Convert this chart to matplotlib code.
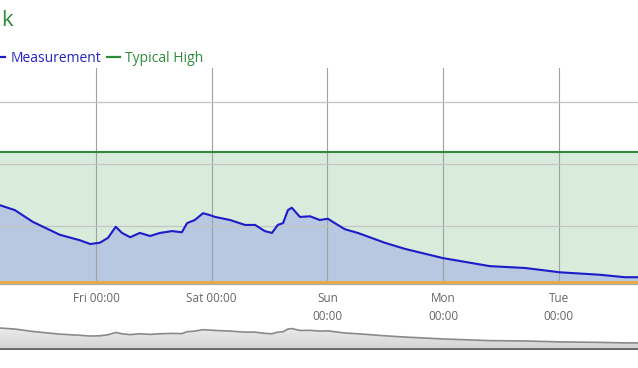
import numpy as np
import matplotlib
matplotlib.use("Agg")
import matplotlib.pyplot as plt
from matplotlib.lines import Line2D

plt.rcParams.update({"font.family": ["Open Sans", "DejaVu Sans"], "font.size": 8.5})

# hours since Thu 00:00 and measured level
meas_hours = [4.1, 7.2, 10.9, 16.5, 20.7, 22.8, 24.8, 26.5, 28.1, 29.4, 31.1, 33.1,
              35.2, 37.3, 39.8, 41.8, 42.9, 44.5, 46.2, 47.6, 48.7, 51.8, 54.9, 57.0,
              59.0, 60.5, 61.7, 62.8, 63.8, 64.6, 66.3, 68.4, 70.4, 72.1, 73.1, 75.6,
              78.3, 83.9, 88.1, 96.0, 105.7, 113.0, 120.2, 128.5, 133.7, 136.4]
meas_vals = [1.33, 1.25, 1.06, 0.85, 0.76, 0.70, 0.72, 0.80, 0.98, 0.88, 0.81, 0.88,
             0.83, 0.88, 0.91, 0.89, 1.04, 1.09, 1.20, 1.17, 1.14, 1.09, 1.01, 1.01,
             0.91, 0.88, 1.01, 1.04, 1.25, 1.29, 1.14, 1.15, 1.09, 1.11, 1.06, 0.94,
             0.88, 0.72, 0.62, 0.47, 0.34, 0.31, 0.24, 0.20, 0.16, 0.16]
typical_high = 2.2
typical_low = 0.08
tick_hours = [24, 48, 72, 96, 120]
tick_labels = ["Fri 00:00", "Sat 00:00", "Sun\n00:00", "Mon\n00:00", "Tue\n00:00"]

x_range = (4.1, 136.4)

fig = plt.figure(figsize=(6.38, 3.68), dpi=100)
ax = fig.add_axes([0, 1 - 284 / 368, 1, 216 / 368])

ax.axhspan(0, typical_high, color="#d9ecdc", zorder=0)
ax.fill_between(meas_hours, meas_vals, 0, color="#b8c8e0", zorder=1)
ax.plot(meas_hours, meas_vals, color="#1c1cc8", lw=1.5, zorder=3)
ax.axhline(typical_high, color="#2e8b3e", lw=1.5, zorder=3)
ax.axhline(typical_low, color="#e8a850", lw=2.2, zorder=3)

ax.set_xlim(*x_range)
ax.set_ylim(0.05, 3.56)
ax.set_yticks([1, 2, 3])
ax.set_xticks(tick_hours)
ax.set_xticklabels(tick_labels, color="#666666", linespacing=1.45)
ax.tick_params(axis="x", length=0, pad=6)
ax.tick_params(axis="y", length=0, labelleft=False)
ax.grid(axis="y", color="#c4c4c4", lw=0.9, zorder=2)
ax.grid(axis="x", color="#a0a0a0", lw=0.8, zorder=2)
for s in ["top", "left", "right"]:
    ax.spines[s].set_visible(False)
ax.spines["bottom"].set_color("#aaaaaa")

# navigator
nav = fig.add_axes([0, 1 - 350 / 368, 1, 50 / 368])
nav.set_xlim(*x_range)
nav.set_ylim(-0.40, 3.54)
poly = nav.fill_between(meas_hours, meas_vals, -0.40, color="none")
grad = np.linspace(0, 1, 100).reshape(-1, 1)
img = nav.imshow(grad, extent=[x_range[0], x_range[1], -0.40, 1.4], aspect="auto",
                 cmap=matplotlib.colors.LinearSegmentedColormap.from_list("g", ["#d2d2d2", "#ececec"]),
                 origin="lower", zorder=1)
img.set_clip_path(poly.get_paths()[0], transform=nav.transData)
nav.plot(meas_hours, meas_vals, color="#8a8a8a", lw=1.2, zorder=2)
nav.axis("off")
nav.add_line(Line2D([0, 1], [0.02, 0.02], transform=nav.transAxes, color="#666666", lw=2))

fig.text(0.002, 1 - 21 / 368, "k", color="#2e8b3e", fontsize=16, va="center", ha="left")

handles = [Line2D([], [], color="#1c1cc8", lw=1.6), Line2D([], [], color="#2e8b3e", lw=1.6)]
leg = fig.legend(handles, ["Measurement", "Typical High"], loc="center left",
                 bbox_to_anchor=(-0.033, 1 - 58.5 / 368), ncol=2, frameon=False,
                 handlelength=1.0, handletextpad=0.35, columnspacing=0.4, fontsize=10)
for t, c in zip(leg.get_texts(), ["#2424c8", "#2e8b3e"]):
    t.set_color(c)

fig.savefig("out.png", dpi=100)
